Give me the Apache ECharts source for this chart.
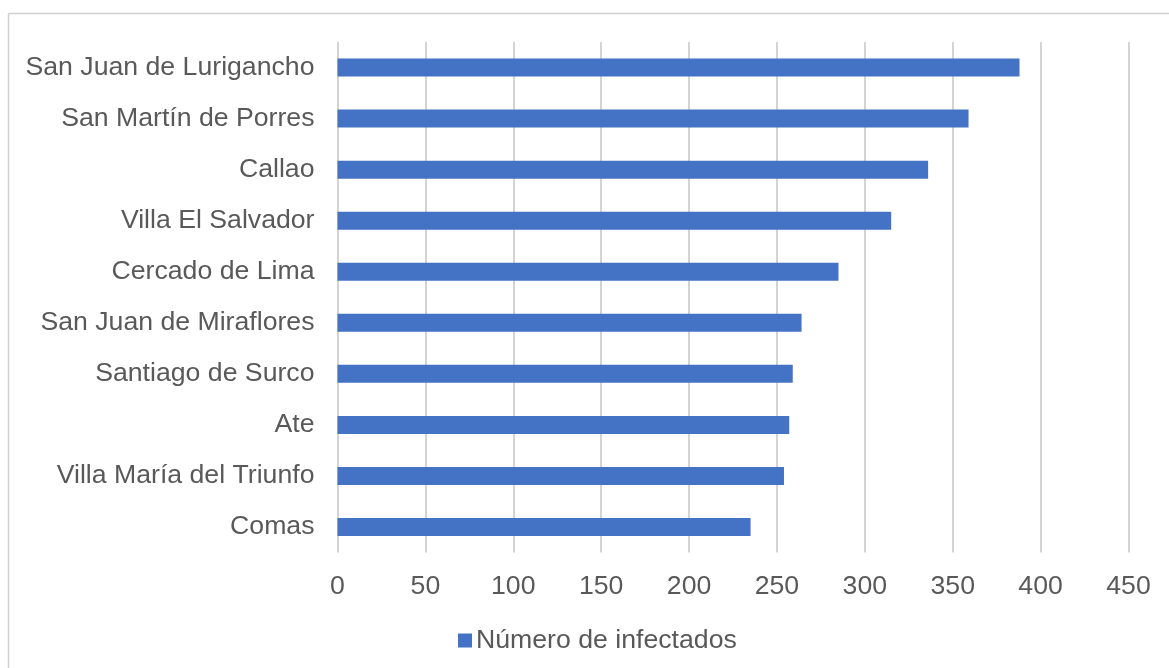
<!DOCTYPE html>
<html>
<head>
<meta charset="utf-8">
<script src="https://cdn.jsdelivr.net/npm/echarts@6/dist/echarts.min.js"></script>
<style>
html,body{margin:0;padding:0;background:#fff;}
#chart{width:1169px;height:668px;}
</style>
</head>
<body>
<div id="chart"></div>
<script>
const categories = ["Comas","Villa María del Triunfo","Ate","Santiago de Surco","San Juan de Miraflores","Cercado de Lima","Villa El Salvador","Callao","San Martín de Porres","San Juan de Lurigancho"];
const infectados = [235, 254, 257, 259, 264, 285, 315, 336, 359, 388];
const seriesName = "Número de infectados";
const xTicks = [0, 50, 100, 150, 200, 250, 300, 350, 400, 450];

const chart = echarts.init(document.getElementById('chart'), null, {renderer: 'canvas'});
const font = 'Liberation Sans, Arial, sans-serif';
const fs = 26.67;
chart.setOption({
  animation: false,
  backgroundColor: '#ffffff',
  textStyle: {fontFamily: font},
  graphic: [
    {type: 'line', shape: {x1: 8.5, y1: 13.5, x2: 1169, y2: 13.5}, style: {stroke: '#d0d0d0', lineWidth: 1.5}},
    {type: 'line', shape: {x1: 8.5, y1: 13.5, x2: 8.5, y2: 668}, style: {stroke: '#d0d0d0', lineWidth: 1.5}}
  ],
  grid: {left: 337.5, right: 1169 - 1128.5, top: 42, bottom: 668 - 552.5, containLabel: false},
  legend: {
    data: [seriesName],
    top: 622,
    left: 453,
    itemWidth: 14,
    itemHeight: 14,
    itemGap: 6,
    icon: 'rect',
    textStyle: {fontSize: fs, color: '#595959', fontFamily: font, padding: [0, 0, 0, -1]}
  },
  xAxis: {
    type: 'value',
    min: xTicks[0],
    max: xTicks[xTicks.length - 1],
    interval: xTicks[1] - xTicks[0],
    axisLine: {show: false},
    axisTick: {show: false},
    axisLabel: {fontSize: fs, color: '#595959', margin: 21, fontFamily: font},
    splitLine: {show: true, lineStyle: {color: '#d4d4d4', width: 2}}
  },
  yAxis: {
    type: 'category',
    data: categories,
    axisLine: {show: false},
    axisTick: {show: false},
    axisLabel: {fontSize: fs, color: '#595959', margin: 23, fontFamily: font}
  },
  series: [{
    name: seriesName,
    type: 'bar',
    data: infectados,
    barWidth: 18,
    itemStyle: {color: '#4472C4'}
  }]
});
</script>
</body>
</html>
